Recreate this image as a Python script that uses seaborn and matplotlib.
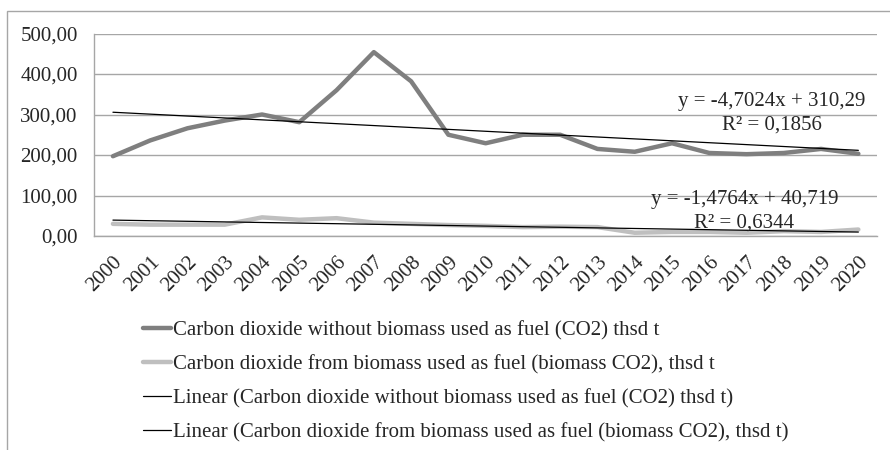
import numpy as np
import pandas as pd
import matplotlib
matplotlib.use("Agg")
import matplotlib.pyplot as plt
import seaborn as sns
from matplotlib.patches import Rectangle

years = list(range(2000, 2021))
co2_without_biomass = [197, 236, 266, 285, 300, 281, 360, 454, 382, 250, 229,
                       250, 250, 215, 208, 229, 205, 202, 205, 215, 203]
co2_biomass = [30, 28, 28, 28, 46, 40, 44, 33, 30, 27, 25,
               22, 23, 22, 8, 10, 10, 8, 12, 10, 16]
trend_slopes = [-4.7024, -1.4764]
trend_intercepts = [310.29, 40.719]
trend_r2 = [0.1856, 0.6344]
y_ticks = [0, 100, 200, 300, 400, 500]
labels = ["Carbon dioxide without biomass used as fuel (CO2) thsd t",
          "Carbon dioxide from biomass used as fuel (biomass CO2), thsd t"]

sns.set_style("white")
plt.rcParams['font.family'] = ['Liberation Serif', 'DejaVu Serif']

df = pd.DataFrame({"year": years, "main": co2_without_biomass, "bio": co2_biomass})
idx = np.arange(1, len(years) + 1)
df["trend_main"] = trend_slopes[0] * idx + trend_intercepts[0]
df["trend_bio"] = trend_slopes[1] * idx + trend_intercepts[1]

fig = plt.figure(figsize=(8.9, 4.5), dpi=100)
ax = fig.add_axes([94.3 / 890, 1 - 236 / 450, (877 - 94.3) / 890, (236 - 33.5) / 450])

grid_c = "#a6a6a6"
fs = 15

sns.lineplot(data=df, x="year", y="main", ax=ax, color="#7f7f7f", linewidth=3.2,
             label=labels[0], legend=False)
sns.lineplot(data=df, x="year", y="bio", ax=ax, color="#bfbfbf", linewidth=3.2,
             label=labels[1], legend=False)
sns.lineplot(data=df, x="year", y="trend_main", ax=ax, color="black", linewidth=0.9,
             label="Linear (" + labels[0] + ")", legend=False)
sns.lineplot(data=df, x="year", y="trend_bio", ax=ax, color="black", linewidth=0.9,
             label="Linear (" + labels[1] + ")", legend=False)

ax.set_xlim(years[0] - 0.5, years[-1] + 0.5)
ax.set_ylim(0, 500)
ax.set_yticks(y_ticks)
ax.set_yticklabels([f"{v:.2f}".replace(".", ",") for v in y_ticks], fontsize=fs)
ax.set_xticks(years)
ax.set_xticklabels([str(y) for y in years], fontsize=fs, rotation=45,
                   ha="right", rotation_mode="anchor")
ax.set_xticks(np.arange(years[0] - 0.5, years[-1] + 1.0, 1.0), minor=True)
ax.tick_params(axis="x", which="major", length=0, pad=12)
ax.tick_params(axis="x", which="minor", length=5, color=grid_c, width=1)
ax.tick_params(axis="y", which="major", length=6, color=grid_c, width=1, pad=6)
ax.set_xlabel("")
ax.set_ylabel("")
ax.yaxis.grid(True, color=grid_c, linewidth=1)
ax.set_axisbelow(True)
for s in ["top", "right"]:
    ax.spines[s].set_visible(False)
for s in ["left", "bottom"]:
    ax.spines[s].set_color(grid_c)
    ax.spines[s].set_linewidth(1)

def fmt(v, d):
    return f"{v:.{d}f}".replace(".", ",")

ax.text(2017.67, 332, f"y = {fmt(trend_slopes[0], 4)}x + {fmt(trend_intercepts[0], 2)}",
        ha="center", va="center", fontsize=fs)
ax.text(2017.67, 273, f"R² = {fmt(trend_r2[0], 4)}", ha="center", va="center", fontsize=fs)
ax.text(2016.94, 89, f"y = {fmt(trend_slopes[1], 4)}x + {fmt(trend_intercepts[1], 3)}",
        ha="center", va="center", fontsize=fs)
ax.text(2016.94, 32, f"R² = {fmt(trend_r2[1], 4)}", ha="center", va="center", fontsize=fs)

handles, labs = ax.get_legend_handles_labels()
fig.legend(handles, labs, loc="upper left", bbox_to_anchor=(143 / 890, 1 - 321 / 450),
           frameon=False, fontsize=fs, handlelength=1.35, handletextpad=0.1,
           labelspacing=0.69, borderpad=0, borderaxespad=0)

fig.patches.append(Rectangle((7 / 890, -0.1), 1.2, 1.1 - 11 / 450,
                             transform=fig.transFigure, fill=False,
                             edgecolor=grid_c, linewidth=1))

fig.savefig("out.png", dpi=100)
